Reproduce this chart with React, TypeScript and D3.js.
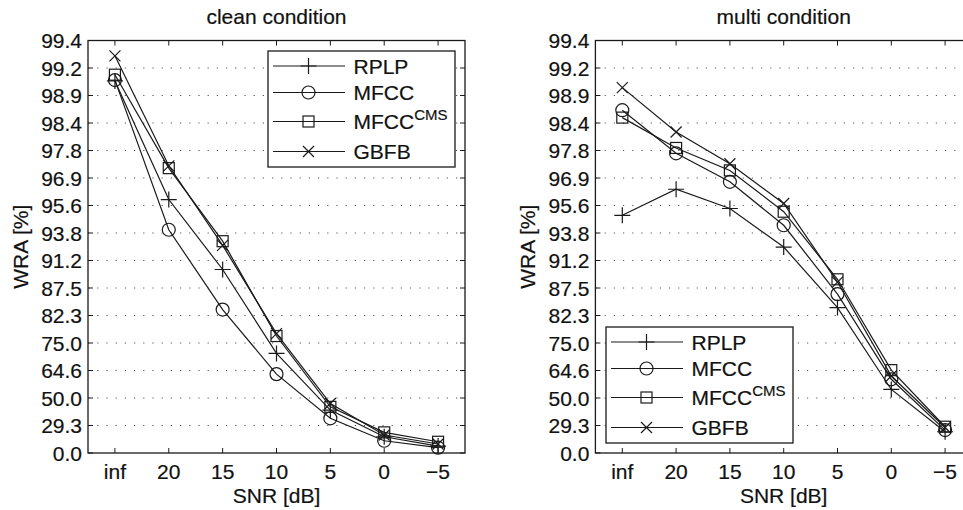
import React from "react";
import * as d3 from "d3";

const categories = ["inf", "20", "15", "10", "5", "0", "\u22125"];
const yTickLabels = ["0.0", "29.3", "50.0", "64.6", "75.0", "82.3", "87.5", "91.2", "93.8", "95.6", "96.9", "97.8", "98.4", "98.9", "99.2", "99.4"];
const seriesNames = ["RPLP", "MFCC", "MFCC", "GBFB"];
const seriesSup = ["", "", "CMS", ""];
const markers = ["plus", "circle", "square", "x"];

// clean condition
const cleanRPLP = [99.08, 95.9, 90.1, 71.5, 41.8, 18.5, 8.4];
const cleanMFCC = [99.09, 94.0, 83.6, 63.0, 35.4, 14.3, 6.5];
const cleanCMS = [99.15, 97.24, 93.07, 77.1, 44.1, 22.9, 13.2];
const cleanGBFB = [99.33, 97.32, 92.7, 77.8, 46.4, 20.3, 10.7];

// multi condition
const multiRPLP = [95.0, 96.4, 95.41, 92.54, 84.0, 55.1, 23.5];
const multiMFCC = [98.67, 97.71, 96.72, 94.33, 86.5, 60.5, 25.1];
const multiCMS = [98.54, 97.86, 97.16, 95.22, 88.8, 64.8, 28.2];
const multiGBFB = [99.0, 98.25, 97.39, 95.69, 88.4, 62.1, 27.5];

const W = 963;
const H = 510;
const TOP = 40.5;
const BOTTOM = 453;
const INK = "#1a1a1a";
const FONT = "'Liberation Sans', Arial, Helvetica, sans-serif";
const FS = 21;

// y positions: linear in log(100 - WRA)
const yErr = d3.scaleLog().domain([100, 100 * Math.pow(2, -7.5)]).range([BOTTOM, TOP]);
const yv = (v: number) => yErr(100 - v);
const tickPos = yTickLabels.map((_, k) => 100 - 100 * Math.pow(2, -k / 2));

function Marker({ type, x, y }: { type: string; x: number; y: number }) {
  const p = { stroke: INK, strokeWidth: 1.2, fill: "none" };
  if (type === "plus") {
    const s = 8;
    return <path d={`M${x - s},${y}H${x + s}M${x},${y - s}V${y + s}`} {...p} />;
  }
  if (type === "circle") return <circle cx={x} cy={y} r={6.5} {...p} />;
  if (type === "square") return <rect x={x - 5.5} y={y - 5.5} width={11} height={11} {...p} />;
  const s = 5.5;
  return <path d={`M${x - s},${y - s}L${x + s},${y + s}M${x - s},${y + s}L${x + s},${y - s}`} {...p} />;
}

const legendOffsets = [0, 26.5, 55.5, 85.5];

function Panel({ left, right, title, data, legend }: { left: number; right: number; title: string; data: number[][]; legend: { x: number; y: number } }) {
  const x = d3.scaleLinear().domain([-0.5, 6.5]).range([left, right]);
  const line = d3.line<number>().x((_, i) => x(i)).y((d) => yv(d));
  const cx = (left + right) / 2;
  return (
    <g fontFamily={FONT} fill="#111" stroke="none">
      <text x={cx} y={24} textAnchor="middle" fontSize={FS} stroke="#111" strokeWidth={0.2}>{title}</text>
      {/* grid */}
      {tickPos.slice(1, -1).map((t, i) => (
        <line key={"g" + i} x1={left} x2={right} y1={yv(t)} y2={yv(t)} stroke="#555" strokeWidth={1} strokeDasharray="1.2 8" />
      ))}
      {/* y ticks */}
      {tickPos.map((t, i) => (
        <g key={"y" + i}>
          <line x1={left} x2={left + 5} y1={yv(t)} y2={yv(t)} stroke={INK} />
          <line x1={right - 5} x2={right} y1={yv(t)} y2={yv(t)} stroke={INK} />
          <text x={left - 6} y={yv(t)} dy="0.36em" textAnchor="end" fontSize={FS} stroke="#111" strokeWidth={0.2}>{yTickLabels[i]}</text>
        </g>
      ))}
      {/* x ticks */}
      {categories.map((c, i) => (
        <g key={"x" + i}>
          <line x1={x(i)} x2={x(i)} y1={BOTTOM} y2={BOTTOM - 5} stroke={INK} />
          <line x1={x(i)} x2={x(i)} y1={TOP} y2={TOP + 5} stroke={INK} />
          <text x={x(i)} y={479} textAnchor="middle" fontSize={FS} stroke="#111" strokeWidth={0.2}>{c}</text>
        </g>
      ))}
      <rect x={left} y={TOP} width={right - left} height={BOTTOM - TOP} fill="none" stroke={INK} strokeWidth={1.3} />
      <text x={cx} y={503} textAnchor="middle" fontSize={FS} stroke="#111" strokeWidth={0.2}>SNR [dB]</text>
      <text transform={`translate(${left - 60},${(TOP + BOTTOM) / 2}) rotate(-90)`} textAnchor="middle" fontSize={FS} stroke="#111" strokeWidth={0.2}>WRA [%]</text>
      {/* series */}
      {data.map((s, si) => (
        <g key={"s" + si}>
          <path d={line(s) || ""} fill="none" stroke={INK} strokeWidth={1.2} />
          {s.map((v, i) => <Marker key={i} type={markers[si]} x={x(i)} y={yv(v)} />)}
        </g>
      ))}
      {/* legend */}
      <rect x={legend.x} y={legend.y} width={187} height={116} fill="#fff" stroke={INK} strokeWidth={1.3} />
      {seriesNames.map((n, i) => {
        const ry = legend.y + 15 + legendOffsets[i];
        return (
          <g key={"l" + i}>
            <line x1={legend.x + 5} x2={legend.x + 77} y1={ry} y2={ry} stroke={INK} strokeWidth={1.2} />
            <Marker type={markers[i]} x={legend.x + 40.5} y={ry} />
            <text x={legend.x + 85.5} y={ry} dy="0.36em" fontSize={FS} stroke="#111" strokeWidth={0.2}>
              {n}
              {seriesSup[i] ? <tspan fontSize={15} dy="-9">{seriesSup[i]}</tspan> : null}
            </text>
          </g>
        );
      })}
    </g>
  );
}

export default function App() {
  return (
    <svg width={W} height={H} style={{ position: "absolute", left: 0, top: 0, background: "#fff" }}>
      <rect width={W} height={H} fill="#fff" />
      <Panel left={88} right={465} title="clean condition" data={[cleanRPLP, cleanMFCC, cleanCMS, cleanGBFB]} legend={{ x: 268, y: 51 }} />
      <Panel left={595.4} right={972} title="multi condition" data={[multiRPLP, multiMFCC, multiCMS, multiGBFB]} legend={{ x: 606, y: 327 }} />
    </svg>
  );
}
